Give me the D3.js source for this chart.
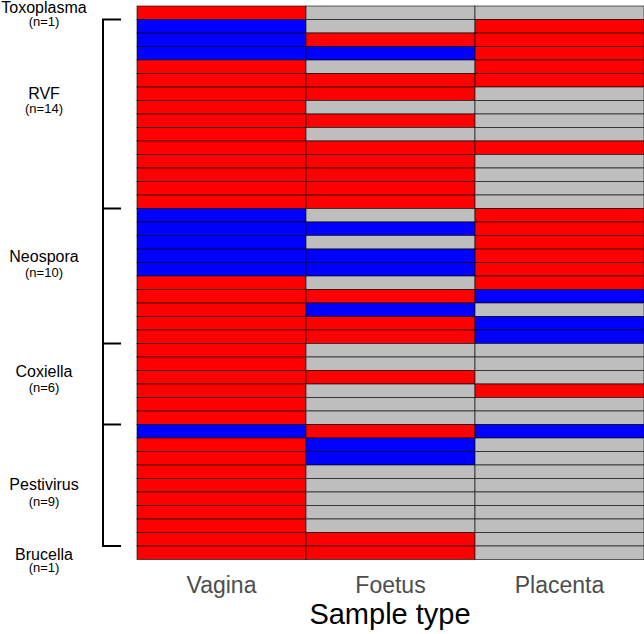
<!DOCTYPE html>
<html>
<head>
<meta charset="utf-8">
<script src="https://cdn.jsdelivr.net/npm/d3@7"></script>
<style>
  body { margin: 0; background: #fff; }
  svg { display: block; font-family: "Liberation Sans", Arial, Helvetica, sans-serif; }
</style>
</head>
<body>
<div id="canvas"></div>
<script>
// groups of samples (rows, top to bottom)
var groups = ["Toxoplasma", "RVF", "Neospora", "Coxiella", "Pestivirus", "Brucella"]
var groupSizes = [1, 14, 10, 6, 9, 1]

var sampleTypes = ["Vagina", "Foetus", "Placenta"]

// R = red, B = blue, G = grey ; one entry per row, split by group
var vaginaResults = [
    "R",
    "B","B","B","R","R","R","R","R","R","R","R","R","R","R",
    "B","B","B","B","B","R","R","R","R","R",
    "R","R","R","R","R","R",
    "B","R","R","R","R","R","R","R","R",
    "R"
]
var foetusResults = [
    "G",
    "G","R","B","G","R","R","G","R","G","R","R","R","R","R",
    "G","B","G","B","B","G","R","B","R","R",
    "G","G","R","G","G","G",
    "R","B","B","G","G","G","G","G","R",
    "R"
]
var placentaResults = [
    "G",
    "R","R","R","R","R","G","G","G","G","R","G","G","G","G",
    "R","R","R","R","R","R","B","G","B","B",
    "G","G","G","R","G","G",
    "B","G","G","G","G","G","G","G","G",
    "G"
]

var width = 644
var height = 634
var colors = { R: "#ff0000", B: "#0000ff", G: "#bebebe" }

// where each group label sits, in row units from the top of the grid,
// and how far below it the (n=..) line goes
var labelRows = [0.07, 6.45, 18.55, 27.05, 35.45, 40.6]
var nOffsets = [15, 15, 16, 16, 17, 13]

var nRows = d3.sum(groupSizes)
var results = [vaginaResults, foetusResults, placentaResults]

var cells = []
for (var c = 0; c < sampleTypes.length; c++) {
    for (var r = 0; r < nRows; r++) {
        cells.push({ row: r, col: sampleTypes[c], value: results[c][r] })
    }
}

var svg = d3.select("#canvas")
    .append("svg")
    .attr("width", width)
    .attr("height", height)

var xScale = d3.scaleBand().domain(sampleTypes).range([137, 644])
var yScale = d3.scaleLinear().domain([0, nRows]).range([6, 559.5])

svg.selectAll(".cell")
    .data(cells)
    .enter()
    .append("rect")
    .attr("class", "cell")
    .attr("x", function (d) { return xScale(d.col) })
    .attr("y", function (d) { return yScale(d.row) })
    .attr("width", xScale.bandwidth())
    .attr("height", yScale(1) - yScale(0))
    .attr("fill", function (d) { return colors[d.value] })
    .attr("stroke", "#000")
    .attr("stroke-opacity", 0.6)
    .attr("stroke-width", 1)

// x axis labels
var xAxis = svg.append("g")
    .attr("transform", "translate(0,559.5)")
    .call(d3.axisBottom(xScale).tickSize(0).tickPadding(17))
xAxis.select(".domain").remove()
xAxis.selectAll("text")
    .attr("font-size", 23)
    .attr("font-family", "Liberation Sans, Arial, sans-serif")
    .attr("fill", "#4d4d4d")

svg.append("text")
    .attr("x", 390)
    .attr("y", 624)
    .attr("text-anchor", "middle")
    .attr("font-size", 29)
    .attr("fill", "#000")
    .text("Sample type")

// bracket with ticks at group boundaries (first and last groups left out)
var starts = []
var acc = 0
groupSizes.forEach(function (s) { starts.push(acc); acc += s })
var bracketBreaks = starts.slice(1)

svg.append("line")
    .attr("x1", 103).attr("x2", 103)
    .attr("y1", yScale(bracketBreaks[0]))
    .attr("y2", yScale(bracketBreaks[bracketBreaks.length - 1]))
    .attr("stroke", "#000")
    .attr("stroke-width", 2)

svg.selectAll(".brk")
    .data(bracketBreaks)
    .enter()
    .append("line")
    .attr("class", "brk")
    .attr("x1", 102).attr("x2", 121)
    .attr("y1", function (d) { return yScale(d) })
    .attr("y2", function (d) { return yScale(d) })
    .attr("stroke", "#000")
    .attr("stroke-width", 2)

// group labels
var lab = svg.selectAll(".glabel")
    .data(groups)
    .enter()
    .append("g")
    .attr("class", "glabel")
    .attr("transform", function (d, i) { return "translate(44," + yScale(labelRows[i]) + ")" })

lab.append("text")
    .attr("text-anchor", "middle")
    .attr("dy", "0.35em")
    .attr("font-size", 16)
    .text(function (d) { return d })

lab.append("text")
    .attr("text-anchor", "middle")
    .attr("y", function (d, i) { return nOffsets[i] })
    .attr("dy", "0.35em")
    .attr("font-size", 13)
    .text(function (d, i) { return "(n=" + groupSizes[i] + ")" })
</script>
</body>
</html>
